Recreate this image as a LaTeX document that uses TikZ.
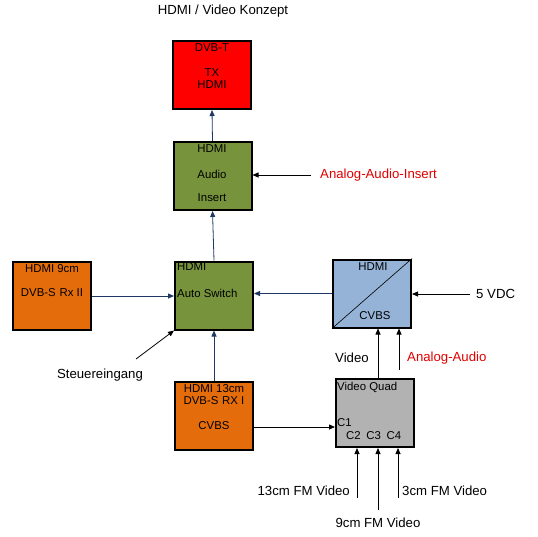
\documentclass[tikz,border=0pt]{standalone}
\usepackage{fontspec}
\setmainfont{Liberation Sans}
\usetikzlibrary{arrows.meta}
\definecolor{dvbred}{HTML}{FF0000}
\definecolor{grn}{HTML}{77933C}
\definecolor{org}{HTML}{E46C0A}
\definecolor{lblue}{HTML}{95B3D7}
\definecolor{qgray}{HTML}{B2B2B2}
\definecolor{navy}{HTML}{1F3864}
\definecolor{redtxt}{HTML}{E00000}
\tikzset{
  box/.style={draw=black, line width=2pt, minimum width=78pt, minimum height=68pt, inner sep=0pt},
  btxt/.style={font=\fontsize{11.4}{13}\selectfont, inner sep=0pt},
  ltxt/.style={font=\fontsize{13.2}{15}\selectfont, inner sep=0pt},
  conn/.style={line width=0.8pt, -{Triangle[length=6pt,width=5pt]}},
  nconn/.style={conn, draw=navy},
}
\begin{document}
\begin{tikzpicture}[x=1pt,y=-1pt]
\useasboundingbox (0,0) rectangle (538,536);
% title
\node[ltxt] (title) at (223,11) {HDMI / Video Konzept};
% boxes
\node[box, fill=dvbred] (dvbt) at (212,75) {};
\node[box, fill=grn] (insert) at (212.5,176) {};
\node[box, fill=org] (rx2) at (52,296) {};
\node[box, fill=grn] (switch) at (214,295.5) {};
\node[box, fill=lblue] (cvbs) at (372,293.5) {};
\node[box, fill=org] (rx1) at (214,416) {};
\node[box, fill=qgray] (quad) at (375,413) {};
\draw[line width=0.6pt] (cvbs.south west) -- (cvbs.north east);
% box texts
\node[btxt] (t1) at (212,48) {DVB-T};
\node[btxt] (t2) at (212,73) {TX};
\node[btxt] (t3) at (212,85) {HDMI};
\node[btxt] (t4) at (212,149) {HDMI};
\node[btxt] (t5) at (212,174) {Audio};
\node[btxt] (t6) at (212,198) {Insert};
\node[btxt] (t7) at (52,269) {HDMI 9cm};
\node[btxt] (t8) at (52,293) {DVB-S\,\,Rx II};
\node[btxt, anchor=west] (t9) at (177,267) {HDMI};
\node[btxt, anchor=west] (t10) at (177,293) {Auto Switch};
\node[btxt] (t11) at (373,267) {HDMI};
\node[btxt] (t12) at (375,316) {CVBS};
\node[btxt] (t13) at (214,389) {HDMI 13cm};
\node[btxt] (t14) at (214,401) {DVB-S\,\,RX I};
\node[btxt] (t15) at (214,426) {CVBS};
\node[btxt, anchor=west] (t16) at (337,387) {Video Quad};
\node[btxt, anchor=west] (t17) at (337,423) {C1};
\node[btxt, anchor=west] (t18) at (346,436) {C2\,\,\,C3\,\,\,C4};
% outer labels
\node[ltxt, text=redtxt, anchor=west] (aai) at (320,175) {Analog-Audio-Insert};
\node[ltxt] (steuer) at (100,375) {Steuereingang};
\node[ltxt, anchor=west] (vdc) at (476,294) {5 VDC};
\node[ltxt] (video) at (352,358) {Video};
\node[ltxt, text=redtxt, anchor=west] (aa) at (407,358) {Analog-Audio};
\node[ltxt, anchor=east] (fm13) at (350,491) {13cm FM Video};
\node[ltxt, anchor=west] (fm3) at (402,491) {3cm FM Video};
\node[ltxt] (fm9) at (378,523) {9cm FM Video};
% free ends
\coordinate (aaiS) at (311,175);
\coordinate (stS) at (136,359);
\coordinate (vdcS) at (470,294);
\coordinate (aaS) at (399,370);
\coordinate (f13) at (357,498);
\coordinate (f9) at (378,510);
\coordinate (f3) at (398,498);
% navy connectors
\draw[nconn] (insert.north) -- (dvbt.south);
\draw[nconn] (switch.north) -- (insert.south);
\draw[nconn] (rx2.east) -- (rx2.east -| switch.west);
\draw[nconn] (cvbs.west) -- (cvbs.west -| switch.east);
\draw[nconn] (rx1.north) -- (switch.south);
% black connectors
\draw[conn] (aaiS) -- (aaiS -| insert.east);
\draw[conn] (stS) -- (switch.south west);
\draw[conn] (vdcS) -- (vdcS -| cvbs.east);
\draw[conn] (quad.north -| 378,0) -- (cvbs.south -| 378,0);
\draw[conn] (aaS) -- (aaS |- cvbs.south);
\draw[conn] (rx1.east |- 0,427) -- (quad.west |- 0,427);
\draw[conn] (f13) -- (f13 |- quad.south);
\draw[conn] (f9) -- (f9 |- quad.south);
\draw[conn] (f3) -- (f3 |- quad.south);
\end{tikzpicture}
\end{document}
